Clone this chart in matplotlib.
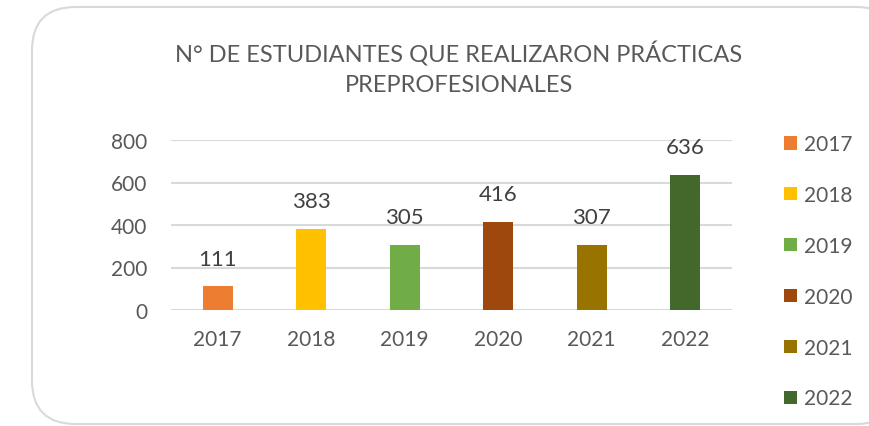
import matplotlib
matplotlib.use("Agg")
import matplotlib.pyplot as plt
from matplotlib.patches import FancyBboxPatch, Patch

years = ["2017", "2018", "2019", "2020", "2021", "2022"]
values = [111, 383, 305, 416, 307, 636]
colors = ["#ED7D31", "#FFC000", "#70AD47", "#9E480E", "#997300", "#43682B"]
yticks = [0, 200, 400, 600, 800]
title = "N° DE ESTUDIANTES QUE REALIZARON PRÁCTICAS\nPREPROFESIONALES"

W, H = 870, 427
plt.rcParams['font.family'] = ['Lato', 'DejaVu Sans']
fig = plt.figure(figsize=(W/100, H/100), dpi=100)
fig.patch.set_facecolor("white")

# rounded border
box = FancyBboxPatch((32/W, (H-425)/H), (900-32)/W, (425-8)/H,
                     boxstyle="round,pad=0,rounding_size=0.05",
                     transform=fig.transFigure, facecolor="white",
                     edgecolor="#D9D9D9", linewidth=1.5, mutation_aspect=W/H,
                     zorder=-5)
fig.patches.append(box)

ax = fig.add_axes([171/W, (H-311)/H, (732-171)/W, (311-141)/H])
ax.set_zorder(2)
ax.set_facecolor("none")
x = range(len(years))
bars = ax.bar(x, values, width=0.32, color=colors, zorder=3)
ax.set_xlim(-0.5, len(years)-0.5)
ax.set_ylim(0, 800)
ax.set_yticks(yticks)
ax.set_xticks(list(x))
ax.set_xticklabels(years)
ax.grid(axis="y", color="#D9D9D9", linewidth=1.5, zorder=0)
for s in ax.spines.values():
    s.set_visible(False)
ax.tick_params(length=0, labelsize=15, labelcolor="#595959")
ax.tick_params(axis="y", pad=17)
ax.tick_params(axis="x", pad=14)
for xi, v in zip(x, values):
    ax.annotate(str(v), (xi, v), xytext=(0, 20), textcoords="offset points",
                ha="center", va="center", fontsize=16, color="#404040")

fig.text(459/W, 1-68.5/H, title, ha="center", va="center", fontsize=17,
         color="#595959", linespacing=1.5)

handles = [Patch(facecolor=c, edgecolor="none") for c in colors]
leg = fig.legend(handles, years, loc="upper left", bbox_to_anchor=(776/W, 1-127/H),
                 frameon=False, fontsize=15, labelcolor="#595959",
                 handlelength=0.6, handleheight=0.6, handletextpad=0.35,
                 labelspacing=1.48, borderaxespad=0)

fig.savefig("out.png", dpi=100, facecolor="white")
